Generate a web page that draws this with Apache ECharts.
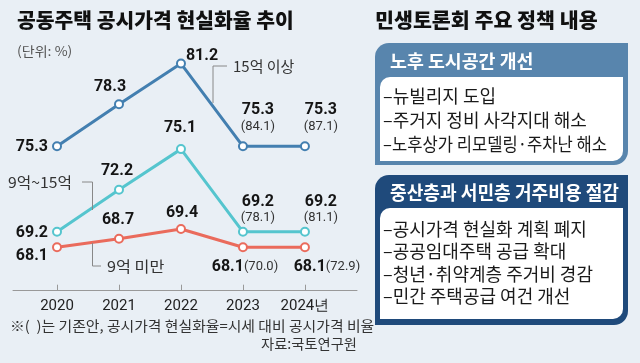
<!DOCTYPE html>
<html><head><meta charset="utf-8">
<script src="https://cdn.jsdelivr.net/npm/echarts@6/dist/echarts.min.js"></script>
<style>html,body{margin:0;padding:0;background:#e9eff5;}#c{width:640px;height:363px;}</style>
</head><body><div id="c"></div>
<script>
// ---- data ----
const years = [2020, 2021, 2022, 2023, 2024];
const tickLabels = ['2020', '2021', '2022', '2023', '2024년'];
const seriesNames = ['15억 이상', '9억~15억', '9억 미만'];
const over15 = [75.3, 78.3, 81.2, 75.3, 75.3];
const over15Base = [null, null, null, 84.1, 87.1];
const mid9to15 = [69.2, 72.2, 75.1, 69.2, 69.2];
const mid9to15Base = [null, null, null, 78.1, 81.1];
const under9 = [68.1, 68.7, 69.4, 68.1, 68.1];
const under9Base = [null, null, null, 70.0, 72.9];
const chartTitle = '공동주택 공시가격 현실화율 추이';
const unitText = '(단위: %)';
const noteText = '※(  )는 기존안, 공시가격 현실화율=시세 대비 공시가격 비율';
const sourceText = '자료:국토연구원';
const panelTitle = '민생토론회 주요 정책 내용';
const policy1Title = '노후 도시공간 개선';
const policy1Items = ['뉴빌리지 도입', '주거지 정비 사각지대 해소', '노후상가 리모델링·주차난 해소'];
const policy2Title = '중산층과 서민층 거주비용 절감';
const policy2Items = ['공시가격 현실화 계획 폐지', '공공임대주택 공급 확대', '청년·취약계층 주거비 경감', '민간 주택공급 여건 개선'];

// ---- styles ----
const colors = ['#437fb0', '#55c5ce', '#ea6b5c'];
const labelLayouts = [
  [{a:'right',o:[-9,1]},{a:'center',o:[-9,-17]},{a:'center',o:[21,-8]},{a:'center',o:[15,-28]},{a:'center',o:[16,-28]}],
  [{a:'right',o:[-9,1]},{a:'center',o:[-2,-19]},{a:'center',o:[-1,-21]},{a:'center',o:[15,-22]},{a:'center',o:[16,-22]}],
  [{a:'right',o:[-9,9]},{a:'center',o:[-1,-19]},{a:'center',o:[1,-16]},{a:'center',o:[2,20]},{a:'center',o:[22,20]}]
];
const rich = {
  v: {fontFamily: 'Roboto', fontWeight: 'bold', fontSize: 16, color: '#151515', lineHeight: 16},
  b: {fontFamily: 'Roboto', fontSize: 13, color: '#333', lineHeight: 16}
};
const KR = '"Noto Sans CJK KR"';

function buildSeries(idx, vals, bases, multiline) {
  return {
    name: seriesNames[idx], type: 'line',
    data: years.map((y, i) => {
      const lay = labelLayouts[idx][i];
      return {
        value: [y, vals[i]],
        label: {
          show: true, position: 'inside', align: lay.a, verticalAlign: 'middle', offset: lay.o,
          formatter: () => bases[i] == null ? '{v|' + vals[i].toFixed(1) + '}'
            : '{v|' + vals[i].toFixed(1) + '}' + (multiline ? '\n' : '') + '{b|(' + bases[i].toFixed(1) + ')}',
          rich: rich
        }
      };
    }),
    symbol: 'circle', symbolSize: 8,
    itemStyle: {color: '#fff', borderColor: colors[idx], borderWidth: 2},
    lineStyle: {color: colors[idx], width: 3},
    label: {show: true},
    z: 3 - idx, animation: false
  };
}

const measureCtx = document.createElement('canvas').getContext('2d');
function fitScale(text, font, maxW) {
  measureCtx.font = font;
  const w = measureCtx.measureText(text).width;
  return w > maxW ? maxW / w : 1;
}

const chart = echarts.init(document.getElementById('c'));
const g = [];
const txt = (x, y, text, font, fill, align, sx) => g.push({type: 'text', x: x, y: y, z: 10, scaleX: sx || 1,
  style: {text: text, font: font, fill: fill, textAlign: align || 'left', textVerticalAlign: 'middle'}});
const line = (pts) => g.push({type: 'polyline', z: 10, shape: {points: pts}, style: {stroke: '#888', lineWidth: 1, fill: null}});

txt(17, 20, chartTitle, '900 20px ' + KR, '#111', 'left', 1.02);
txt(17, 51, unitText, '13px ' + KR, '#555', 'left', 1.08);
// series annotations
line([[213, 103], [213, 66], [227, 66]]);
txt(233, 66, seriesNames[0], '15px ' + KR, '#333');
line([[82, 182], [92.5, 182], [92.5, 210]]);
txt(8, 182, seriesNames[1], '15px ' + KR, '#333', 'left', 1.05);
line([[92.5, 243], [92.5, 266], [101, 266]]);
txt(107, 266, seriesNames[2], '15px ' + KR, '#333', 'left', 1.08);
txt(10, 326, noteText, '14px ' + KR, '#333', 'left', 1.06);
txt(357, 344, sourceText, '14px ' + KR, '#333', 'right', 1.02);
// right panel
const itemFont = '18px ' + KR;
const itemMaxW = 224;
const head2Font = 'bold 19px ' + KR;
txt(375, 20, panelTitle, '900 20px ' + KR, '#111', 'left', 1.03);
g.push({type: 'rect', z: 5, shape: {x: 375, y: 43, width: 253, height: 122, r: [14, 0, 14, 0]}, style: {fill: '#5885ad'}});
g.push({type: 'rect', z: 6, shape: {x: 380, y: 77, width: 243, height: 84, r: [10, 0, 10, 0]}, style: {fill: '#fff'}});
txt(390, 61, policy1Title, 'bold 18px ' + KR, '#fff', 'left', 1.02);
policy1Items.forEach((t, i) => txt(383, 96 + i * 24, '–' + t, itemFont, '#1a1a1a', 'left', fitScale('–' + t, itemFont, itemMaxW)));
g.push({type: 'rect', z: 5, shape: {x: 375, y: 175, width: 253, height: 150, r: [14, 0, 14, 0]}, style: {fill: '#1f4a7b'}});
g.push({type: 'rect', z: 6, shape: {x: 380, y: 208, width: 243, height: 111, r: [10, 0, 10, 0]}, style: {fill: '#fff'}});
txt(390, 193, policy2Title, head2Font, '#fff', 'left', fitScale(policy2Title, head2Font, 229));
policy2Items.forEach((t, i) => txt(383, 229 + i * 22.5, '–' + t, itemFont, '#1a1a1a', 'left', fitScale('–' + t, itemFont, itemMaxW)));

chart.setOption({
  backgroundColor: '#e9eff5',
  animation: false,
  grid: {left: 13, right: 283, top: 52.4, bottom: 72.3},
  xAxis: {
    type: 'value', min: 2019.29, max: 2024.84,
    splitLine: {show: false},
    axisLine: {show: true, lineStyle: {color: '#999', width: 1}},
    axisTick: {show: true, inside: true, length: 6, lineStyle: {color: '#999'}, customValues: years},
    axisLabel: {customValues: years, formatter: v => tickLabels[years.indexOf(Math.round(v))],
      fontFamily: 'Roboto', fontSize: 15, color: '#222', margin: 8}
  },
  yAxis: {type: 'value', min: 65, max: 82, show: false},
  series: [
    buildSeries(0, over15, over15Base, true),
    buildSeries(1, mid9to15, mid9to15Base, true),
    buildSeries(2, under9, under9Base, false)
  ],
  graphic: g
});
</script></body></html>
